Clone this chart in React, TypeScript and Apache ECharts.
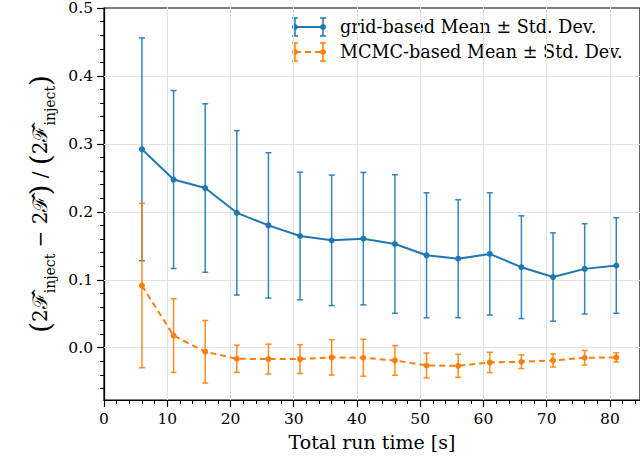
import React, { useEffect, useRef } from "react";
import * as echarts from "echarts";

const RUN_TIME = [6, 11, 16, 21, 26, 31, 36, 41, 46, 51, 56, 61, 66, 71, 76, 81];
const GRID_MEAN = [0.292, 0.2475, 0.235, 0.1985, 0.18, 0.1644, 0.158, 0.1605, 0.1526, 0.136, 0.131, 0.138, 0.1185, 0.104, 0.116, 0.121];
const GRID_STD = [0.164, 0.131, 0.124, 0.121, 0.107, 0.094, 0.096, 0.0975, 0.102, 0.092, 0.0868, 0.09, 0.0756, 0.065, 0.0665, 0.0703];
const MCMC_MEAN = [0.0914, 0.0178, -0.0059, -0.0163, -0.0168, -0.0168, -0.0143, -0.0148, -0.0188, -0.0262, -0.0267, -0.0217, -0.0207, -0.0188, -0.0148, -0.0143];
const MCMC_STD = [0.121, 0.0543, 0.046, 0.02, 0.022, 0.0212, 0.026, 0.0272, 0.0218, 0.0183, 0.017, 0.015, 0.01, 0.0096, 0.0107, 0.0067];

const X_MAJOR = [0, 10, 20, 30, 40, 50, 60, 70, 80];
const X_MINOR = [2, 4, 6, 8, 12, 14, 16, 18, 22, 24, 26, 28, 32, 34, 36, 38, 42, 44, 46, 48, 52, 54, 56, 58, 62, 64, 66, 68, 72, 74, 76, 78, 82, 84];
const Y_MAJOR = [0, 0.1, 0.2, 0.3, 0.4, 0.5];
const Y_MINOR = [-0.06, -0.04, -0.02, 0.02, 0.04, 0.06, 0.08, 0.12, 0.14, 0.16, 0.18, 0.22, 0.24, 0.26, 0.28, 0.32, 0.34, 0.36, 0.38, 0.42, 0.44, 0.46, 0.48];

const LEGEND_LABELS = ["grid-based Mean \u00b1 Std. Dev.", "MCMC-based Mean \u00b1 Std. Dev."];

const BLUE = "#1f77b4";
const ORANGE = "#ff7f0e";
const FONT = '"DejaVu Serif", "Liberation Serif", serif';
const X_MIN = 0, X_MAX = 84.75, Y_MIN = -0.077, Y_MAX = 0.5;

function errorSeries(name: string, means: number[], stds: number[], color: string) {
  const data = RUN_TIME.map((x, i) => [x, means[i] - stds[i], means[i] + stds[i]]);
  return {
    type: "custom",
    name,
    xAxisIndex: 0,
    yAxisIndex: 0,
    encode: { x: 0, y: [1, 2] },
    data,
    z: 3,
    renderItem: (params: any, api: any) => {
      const x = api.value(0);
      const p1 = api.coord([x, api.value(1)]);
      const p2 = api.coord([x, api.value(2)]);
      const w = 3;
      const st = { stroke: color, lineWidth: 1.5, opacity: 0.9 };
      return {
        type: "group",
        children: [
          { type: "line", shape: { x1: p1[0], y1: p1[1], x2: p2[0], y2: p2[1] }, style: st },
          { type: "line", shape: { x1: p1[0] - w, y1: p1[1], x2: p1[0] + w, y2: p1[1] }, style: st },
          { type: "line", shape: { x1: p2[0] - w, y1: p2[1], x2: p2[0] + w, y2: p2[1] }, style: st },
        ],
      };
    },
  };
}

function lineSeries(name: string, means: number[], color: string, dashed: boolean) {
  return {
    type: "line",
    name,
    xAxisIndex: 0,
    yAxisIndex: 0,
    data: RUN_TIME.map((x, i) => [x, means[i]]),
    symbol: "circle",
    symbolSize: 6,
    z: 4,
    itemStyle: { color },
    lineStyle: { color, width: 2, type: dashed ? [6, 4] : "solid" },
  };
}

function legendItem(y: number, color: string, dashed: boolean, label: string) {
  const x1 = 295, x2 = 323, h = 9, w = 3;
  const st = { stroke: color, lineWidth: 1.5 };
  return [
    { type: "line", shape: { x1, y1: y, x2, y2: y }, style: { stroke: color, lineWidth: 2, lineDash: dashed ? [6, 4] : null } },
    { type: "line", shape: { x1, y1: y - h, x2: x1, y2: y + h }, style: st },
    { type: "line", shape: { x1: x2, y1: y - h, x2, y2: y + h }, style: st },
    { type: "line", shape: { x1: x1 - w, y1: y - h, x2: x1 + w, y2: y - h }, style: st },
    { type: "line", shape: { x1: x1 - w, y1: y + h, x2: x1 + w, y2: y + h }, style: st },
    { type: "line", shape: { x1: x2 - w, y1: y - h, x2: x2 + w, y2: y - h }, style: st },
    { type: "line", shape: { x1: x2 - w, y1: y + h, x2: x2 + w, y2: y + h }, style: st },
    { type: "circle", shape: { cx: x1, cy: y, r: 3 }, style: { fill: color } },
    { type: "circle", shape: { cx: x2, cy: y, r: 3 }, style: { fill: color } },
    { type: "text", x: 340, y, style: { text: label, fill: "#000", font: `17.6px ${FONT}`, align: "left", verticalAlign: "middle" } },
  ];
}

export default function App() {
  const ref = useRef<HTMLDivElement>(null);
  useEffect(() => {
    document.body.style.margin = "0";
    const chart = echarts.init(ref.current!, undefined, { renderer: "svg" });
    const black = { color: "#000", width: 1.2 };
    const labelStyle = { color: "#000", fontFamily: FONT, fontSize: 15.5 };
    chart.setOption({
      animation: false,
      backgroundColor: "#fff",
      grid: { left: 104, top: 6, right: -4, bottom: 66, show: true, borderColor: "#000", borderWidth: 1.2, backgroundColor: "transparent" },
      xAxis: [
        {
          type: "value", min: X_MIN, max: X_MAX, position: "bottom",
          axisLine: { show: true, onZero: false, lineStyle: black },
          axisTick: { show: true, customValues: X_MAJOR, length: 7, lineStyle: black },
          axisLabel: { show: true, customValues: X_MAJOR, margin: 11, formatter: (v: number) => String(v), ...labelStyle },
          splitLine: { show: false },
          name: "Total run time [s]", nameLocation: "middle", nameGap: 32,
          nameTextStyle: { color: "#000", fontFamily: FONT, fontSize: 19 },
        },
        {
          type: "value", min: X_MIN, max: X_MAX, position: "bottom",
          axisLine: { show: false, onZero: false },
          axisTick: { show: true, customValues: X_MINOR, length: 4, lineStyle: { color: "#000", width: 1 } },
          axisLabel: { show: false }, splitLine: { show: false },
        },
        {
          type: "value", min: X_MIN, max: X_MAX, position: "bottom",
          axisLine: { show: false, onZero: false },
          axisTick: { show: true, inside: true, customValues: X_MAJOR.slice(1), length: 393, lineStyle: { color: "#e2e2e2", width: 1 } },
          axisLabel: { show: false }, splitLine: { show: false },
        },
      ],
      yAxis: [
        {
          type: "value", min: Y_MIN, max: Y_MAX, position: "left",
          axisLine: { show: true, onZero: false, lineStyle: black },
          axisTick: { show: true, customValues: Y_MAJOR, length: 7, lineStyle: black },
          axisLabel: { show: true, customValues: Y_MAJOR, margin: 11, formatter: (v: number) => v.toFixed(1), ...labelStyle },
          splitLine: { show: false },
          name: "{p|(}{t|2\u2131\u0302}{s|inject}{t| \u2212 2\u2131\u0302}{p|)}{t| / }{p|(}{t|2\u2131\u0302}{s|inject}{p|)}",
          nameLocation: "middle", nameGap: 47, nameRotate: 90,
          nameTextStyle: {
            color: "#000", fontFamily: FONT,
            rich: {
              p: { fontSize: 28, lineHeight: 34, fontFamily: FONT, color: "#000", verticalAlign: "middle" },
              t: { fontSize: 20, lineHeight: 34, fontFamily: FONT, color: "#000", verticalAlign: "middle" },
              s: { fontSize: 14, lineHeight: 26, fontFamily: FONT, color: "#000", verticalAlign: "bottom" },
            },
          },
        },
        {
          type: "value", min: Y_MIN, max: Y_MAX, position: "left",
          axisLine: { show: false, onZero: false },
          axisTick: { show: true, customValues: Y_MINOR, length: 4, lineStyle: { color: "#000", width: 1 } },
          axisLabel: { show: false }, splitLine: { show: false },
        },
        {
          type: "value", min: Y_MIN, max: Y_MAX, position: "left",
          axisLine: { show: false, onZero: false },
          axisTick: { show: true, inside: true, customValues: Y_MAJOR.slice(0, 5), length: 540, lineStyle: { color: "#e2e2e2", width: 1 } },
          axisLabel: { show: false }, splitLine: { show: false },
        },
      ],
      graphic: [...legendItem(27, BLUE, false, LEGEND_LABELS[0]), ...legendItem(52, ORANGE, true, LEGEND_LABELS[1])],
      series: [
        errorSeries("grid-err", GRID_MEAN, GRID_STD, BLUE),
        lineSeries(LEGEND_LABELS[0], GRID_MEAN, BLUE, false),
        errorSeries("mcmc-err", MCMC_MEAN, MCMC_STD, ORANGE),
        lineSeries(LEGEND_LABELS[1], MCMC_MEAN, ORANGE, true),
      ],
    });
    return () => chart.dispose();
  }, []);
  return <div ref={ref} style={{ width: 640, height: 466, position: "absolute", left: 0, top: 0 }} />;
}
